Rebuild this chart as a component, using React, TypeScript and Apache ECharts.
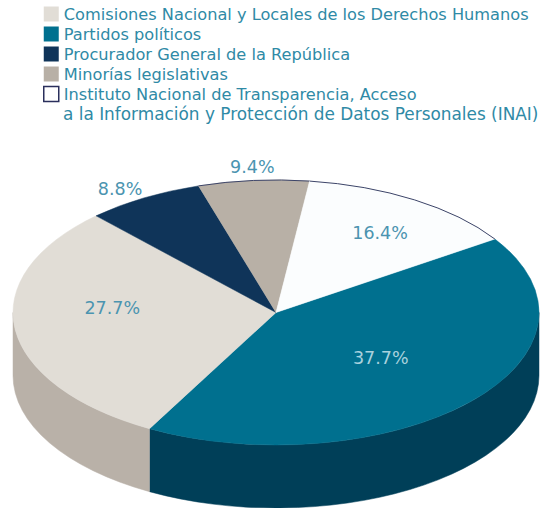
import React, { useEffect, useRef } from "react";
import * as echarts from "echarts";

// Data, in legend order
const categories = [
  "Comisiones Nacional y Locales de los Derechos Humanos",
  "Partidos políticos",
  "Procurador General de la República",
  "Minorías legislativas",
  "Instituto Nacional de Transparencia, Acceso\na la Información y Protección de Datos Personales (INAI)",
];
const values = [27.7, 37.7, 8.8, 9.4, 16.4];
const valueLabels = ["27.7%", "37.7%", "8.8%", "9.4%", "16.4%"];

// Clockwise drawing order round the pie, beginning at the teal slice
const sliceOrder = [1, 0, 2, 3, 4];

// Styles
const topColors = ["#e1ddd6", "#00708f", "#0f3459", "#b8b0a6", "#fbfdfe"];
const sideColors = ["#b9b1a8", "#003f58", "#0b2a46", "#958d84", "#d8d8d8"];
const labelColors = ["#4b94b0", "#a9d2de", "#4b94b0", "#4b94b0", "#4b94b0"];
const labelReach = [0.62, 0.525, 1.105, 1.1, 0.75];
const labelNudge = [
  [-2, -15],
  [3, -2],
  [-10, 3],
  [1, 0],
  [0, 5],
];
const rimColors = [null, null, null, "#3c4468", "#3c4468"];
const legendText = "#2f8aa6";
const legendBorder = "#2a2f5c";

// Geometry of the tilted pie
const CX = 276;
const CY = 312.5;
const RX = 263;
const RY = 132.5;
const DEPTH = 63;
const START_DEG = 20.7;
// Perspective distortion of the angles, in degrees: front slices appear wider than back ones
const WARP_FRONT = 12.45;
const WARP_SIDE = 2;

const rad = (d: number) => (d * Math.PI) / 180;
const warp = (deg: number) =>
  deg + WARP_FRONT * Math.cos(rad(deg)) + WARP_SIDE * Math.sin(rad(2 * deg));
const px = (deg: number) => CX + RX * Math.cos(rad(deg));
const py = (deg: number) => CY - RY * Math.sin(rad(deg));

const total = values.reduce((a, b) => a + b, 0);
const spans: Record<number, { from: number; to: number }> = {};
{
  let cursor = START_DEG;
  sliceOrder.forEach((i) => {
    const next = cursor - (values[i] / total) * 360;
    spans[i] = { from: warp(cursor), to: warp(next) };
    cursor = next;
  });
}

const arc = (a: number, b: number, dy = 0) => {
  const large = Math.abs(a - b) > 180 ? 1 : 0;
  const sweep = b < a ? 1 : 0;
  return `A ${RX} ${RY} 0 ${large} ${sweep} ${px(b)} ${py(b) + dy}`;
};

function sideBand(from: number, to: number): [number, number] | null {
  const a = Math.min(from, 0);
  const b = Math.max(to, -180);
  return a > b ? [a, b] : null;
}

function sliceRenderer(i: number) {
  return () => {
    const { from, to } = spans[i];
    const children: any[] = [];
    const band = sideBand(from, to);
    if (band) {
      const [a, b] = band;
      children.push({
        type: "path",
        shape: {
          pathData: `M ${px(a)} ${py(a)} ${arc(a, b)} L ${px(b)} ${py(b) + DEPTH} ${arc(b, a, DEPTH)} Z`,
        },
        style: { fill: sideColors[i], stroke: sideColors[i], lineWidth: 0.5 },
      });
    }
    children.push({
      type: "path",
      shape: {
        pathData: `M ${CX} ${CY} L ${px(from)} ${py(from)} ${arc(from, to)} Z`,
      },
      style: { fill: topColors[i], stroke: topColors[i], lineWidth: 0.5 },
    });
    if (rimColors[i]) {
      children.push({
        type: "path",
        shape: { pathData: `M ${px(from)} ${py(from)} ${arc(from, to)}` },
        style: { fill: "none", stroke: rimColors[i], lineWidth: 1 },
      });
    }
    const mid = (from + to) / 2;
    children.push({
      type: "text",
      z2: 10,
      style: {
        text: valueLabels[i],
        x: CX + (px(mid) - CX) * labelReach[i] + labelNudge[i][0],
        y: CY + (py(mid) - CY) * labelReach[i] + labelNudge[i][1],
        align: "center",
        verticalAlign: "middle",
        fill: labelColors[i],
        font: '17.5px "DejaVu Sans"',
      },
    });
    return { type: "group", children };
  };
}

export default function App() {
  const ref = useRef<HTMLDivElement>(null);
  useEffect(() => {
    document.body.style.margin = "0";
    document.body.style.background = "#fff";
    const chart = echarts.init(ref.current!, null, { renderer: "svg" });
    chart.setOption({
      animation: false,
      backgroundColor: "#ffffff",
      legend: {
        orient: "vertical",
        left: 43,
        top: 4,
        padding: 0,
        itemWidth: 15,
        itemHeight: 15,
        itemGap: 0,
        icon: "rect",
        selectedMode: false,
        formatter: (name: string) => name.split("\n")[0],
        textStyle: {
          color: legendText,
          fontFamily: "DejaVu Sans",
          fontSize: 16.2,
          lineHeight: 20,
        },
        data: categories.map((name, i) => ({
          name,
          itemStyle:
            i === 4
              ? { color: "#ffffff", borderColor: legendBorder, borderWidth: 1.5 }
              : { color: topColors[i], borderWidth: 0 },
        })),
      },
      graphic: [
        {
          type: "text",
          left: 63,
          top: 105,
          style: {
            text: categories[4].split("\n")[1],
            fill: legendText,
            font: '16.9px "DejaVu Sans"',
          },
        },
      ],
      series: sliceOrder.map((i) => ({
        type: "custom",
        name: categories[i],
        coordinateSystem: "none",
        silent: true,
        itemStyle: { color: topColors[i] },
        data: [[values[i]]],
        renderItem: sliceRenderer(i),
      })),
    });
    return () => chart.dispose();
  }, []);
  return <div ref={ref} style={{ width: 542, height: 508 }} />;
}
